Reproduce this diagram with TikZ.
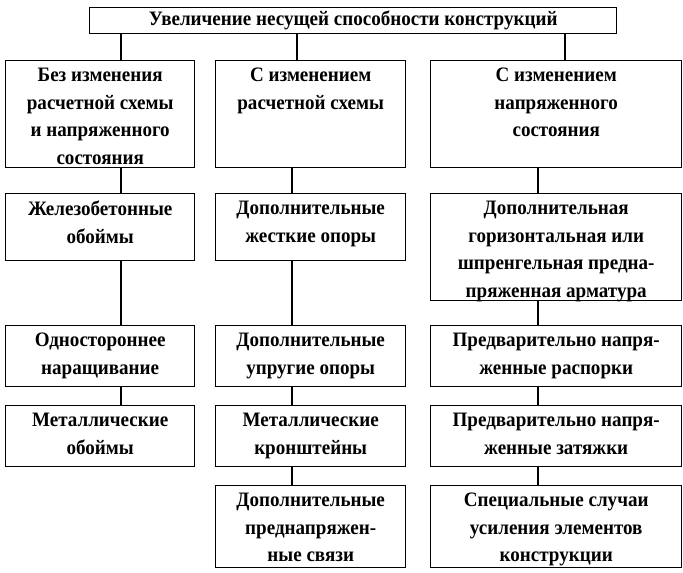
\documentclass[tikz,border=0pt]{standalone}
\usepackage{fontspec}
\setmainfont{Liberation Serif}[FakeStretch=0.93]
\begin{document}
\begin{tikzpicture}[x=1pt,y=-1pt,
  bx/.style={draw,line width=1.4pt,inner sep=0pt,anchor=north west},
  tx/.style={align=center,anchor=north,inner sep=0pt,font=\fontsize{20.5}{27.5}\selectfont\bfseries},
  ln/.style={line width=1.4pt}]
\useasboundingbox (0,0) rectangle (683,573);
\node[bx,minimum width=527,minimum height=26] (t) at (89,7) {};
\node[tx] at ([yshift=-4pt]t.north) {Увеличение несущей способности конструкций};
% row 1
\node[bx,minimum width=189,minimum height=107] (a1) at (5,60) {};
\node[tx] at ([yshift=-8pt]a1.north) {Без изменения\\расчетной схемы\\и напряженного\\состояния};
\node[bx,minimum width=190,minimum height=107] (b1) at (215,60) {};
\node[tx] at ([yshift=-8pt]b1.north) {С изменением\\расчетной схемы};
\node[bx,minimum width=251,minimum height=107] (c1) at (430,60) {};
\node[tx] at ([yshift=-8pt]c1.north) {С изменением\\напряженного\\состояния};
% row 2
\node[bx,minimum width=189,minimum height=67] (a2) at (5,193) {};
\node[tx] at ([yshift=-8pt]a2.north) {Железобетонные\\обоймы};
\node[bx,minimum width=190,minimum height=67] (b2) at (215,193) {};
\node[tx] at ([yshift=-8pt]b2.north) {Дополнительные\\жесткие опоры};
\node[bx,minimum width=251,minimum height=107] (c2) at (430,193) {};
\node[tx] at ([yshift=-8pt]c2.north) {Дополнительная\\горизонтальная или\\шпренгельная предна-\\пряженная арматура};
% row 3
\node[bx,minimum width=189,minimum height=61] (a3) at (5,325) {};
\node[tx] at ([yshift=-8pt]a3.north) {Одностороннее\\наращивание};
\node[bx,minimum width=190,minimum height=61] (b3) at (215,325) {};
\node[tx] at ([yshift=-8pt]b3.north) {Дополнительные\\упругие опоры};
\node[bx,minimum width=251,minimum height=61] (c3) at (430,325) {};
\node[tx] at ([yshift=-8pt]c3.north) {Предварительно напря-\\женные распорки};
% row 4
\node[bx,minimum width=189,minimum height=61] (a4) at (5,405) {};
\node[tx] at ([yshift=-8pt]a4.north) {Металлические\\обоймы};
\node[bx,minimum width=190,minimum height=61] (b4) at (215,405) {};
\node[tx] at ([yshift=-8pt]b4.north) {Металлические\\кронштейны};
\node[bx,minimum width=251,minimum height=61] (c4) at (430,405) {};
\node[tx] at ([yshift=-8pt]c4.north) {Предварительно напря-\\женные затяжки};
% row 5
\node[bx,minimum width=190,minimum height=82] (b5) at (215,485) {};
\node[tx] at ([yshift=-8pt]b5.north) {Дополнительные\\преднапряжен-\\ные связи};
\node[bx,minimum width=251,minimum height=82] (c5) at (430,485) {};
\node[tx] at ([yshift=-8pt]c5.north) {Специальные случаи\\усиления элементов\\конструкции};
% connectors
\draw[ln] (t.south -| 121,0) -- (a1.north -| 121,0);
\draw[ln] (t.south -| 297,0) -- (b1.north -| 297,0);
\draw[ln] (t.south -| 565,0) -- (c1.north -| 565,0);
\draw[ln] (a1.south -| 121,0) -- (a2.north -| 121,0);
\draw[ln] (b1.south -| 292,0) -- (b2.north -| 292,0);
\draw[ln] (c1.south -| 538,0) -- (c2.north -| 538,0);
\draw[ln] (a2.south -| 121,0) -- (a3.north -| 121,0);
\draw[ln] (b2.south -| 292,0) -- (b3.north -| 292,0);
\draw[ln] (c2.south -| 538,0) -- (c3.north -| 538,0);
\draw[ln] (a3.south -| 121,0) -- (a4.north -| 121,0);
\draw[ln] (b3.south -| 292,0) -- (b4.north -| 292,0);
\draw[ln] (c3.south -| 538,0) -- (c4.north -| 538,0);
\draw[ln] (b4.south -| 292,0) -- (b5.north -| 292,0);
\draw[ln] (c4.south -| 538,0) -- (c5.north -| 538,0);
\end{tikzpicture}
\end{document}
